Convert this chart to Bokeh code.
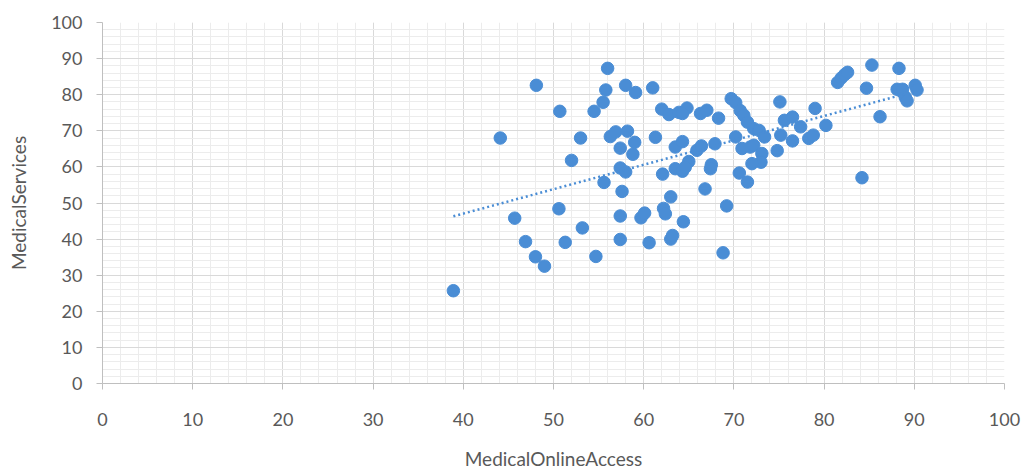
import numpy as np
from bokeh.plotting import figure
from bokeh.models import SingleIntervalTicker, Range1d
from bokeh.embed import file_html
from bokeh.resources import INLINE

online_access = [
    38.9, 44.1, 45.7, 46.9, 48.0, 49.0, 48.1, 50.7, 50.6, 51.3,
    53.0, 52.0, 53.2, 54.7, 54.5, 55.5, 55.8, 56.0, 55.6, 56.3,
    56.9, 58.2, 57.4, 57.4, 58.0, 57.6, 57.4, 57.4, 58.0, 59.1,
    61.0, 59.0, 58.8, 59.7, 60.1, 60.6, 61.3, 62.0, 62.8, 63.9,
    64.8, 64.3, 66.3, 67.0, 68.3, 69.7, 70.2, 70.7, 71.1, 71.5,
    72.2, 72.8, 73.4, 63.5, 64.3, 65.9, 66.4, 67.9, 70.2, 62.1,
    63.5, 64.3, 65.0, 64.6, 67.5, 67.4, 66.8, 70.6, 71.5, 63.0,
    62.2, 62.4, 64.4, 69.2, 63.0, 63.2, 68.8, 70.9, 71.8, 72.2,
    73.1, 73.0, 72.0, 75.1, 75.6, 76.5, 77.4, 79.0, 80.2, 78.3,
    78.8, 76.5, 75.2, 74.8, 81.5, 81.9, 82.3, 82.6, 85.3, 84.7,
    88.3, 88.1, 88.7, 89.0, 89.2, 90.1, 90.3, 86.2, 84.2,
]
medical_services = [
    25.7, 68.0, 45.8, 39.3, 35.1, 32.5, 82.6, 75.4, 48.4, 39.1,
    68.0, 61.8, 43.1, 35.2, 75.4, 77.9, 81.3, 87.3, 55.7, 68.4,
    69.7, 69.9, 65.2, 59.7, 58.6, 53.2, 46.4, 39.9, 82.6, 80.6,
    81.9, 66.8, 63.5, 45.9, 47.2, 39.0, 68.2, 76.0, 74.5, 75.1,
    76.3, 74.8, 74.8, 75.7, 73.5, 78.9, 77.8, 75.6, 74.3, 72.4,
    70.6, 70.1, 68.3, 65.5, 67.0, 64.6, 65.8, 66.4, 68.3, 58.0,
    59.5, 58.8, 61.5, 59.9, 60.6, 59.5, 53.9, 58.3, 55.8, 51.7,
    48.5, 47.0, 44.8, 49.2, 40.0, 41.0, 36.2, 65.1, 65.5, 66.0,
    63.7, 61.3, 60.9, 78.0, 72.9, 73.8, 71.1, 76.2, 71.5, 67.9,
    68.8, 67.2, 68.8, 64.5, 83.4, 84.6, 85.6, 86.2, 88.2, 81.8,
    87.3, 81.5, 81.5, 79.3, 78.3, 82.6, 81.3, 73.9, 57.0,
]
x_ticks = [0, 10, 20, 30, 40, 50, 60, 70, 80, 90, 100]
y_ticks = [0, 10, 20, 30, 40, 50, 60, 70, 80, 90, 100]

x_title = "MedicalOnlineAccess"
y_title = "MedicalServices"

BLUE = "#4A8DD5"
TXT = "#595959"
FONT = "Lato"

p = figure(width=1024, height=473, output_backend="svg", toolbar_location=None,
           x_range=Range1d(x_ticks[0], x_ticks[-1]), y_range=Range1d(y_ticks[0], y_ticks[-1]),
           min_border_left=102, min_border_right=20, min_border_top=22, min_border_bottom=90)
p.outline_line_color = None
p.background_fill_color = "white"
p.border_fill_color = "white"

for ax in (p.xaxis[0], p.yaxis[0]):
    ax.ticker = SingleIntervalTicker(interval=10, num_minor_ticks=5)
    ax.axis_line_color = "#BFBFBF"
    ax.major_tick_line_color = "#BFBFBF"
    ax.major_tick_in = 0
    ax.major_tick_out = 6
    ax.minor_tick_line_color = None
    ax.major_label_text_color = TXT
    ax.major_label_text_font = FONT
    ax.major_label_text_font_size = "18px"
    ax.axis_label_text_color = TXT
    ax.axis_label_text_font = FONT
    ax.axis_label_text_font_size = "19px"
    ax.axis_label_text_font_style = "normal"

p.xaxis[0].axis_label = x_title
p.yaxis[0].axis_label = y_title
p.xaxis[0].major_label_standoff = 23
p.yaxis[0].major_label_standoff = 14
p.xaxis[0].axis_label_standoff = 18
p.yaxis[0].axis_label_standoff = 18

for g in (p.xgrid[0], p.ygrid[0]):
    g.grid_line_color = "#D9D9D9"
    g.grid_line_width = 1
    g.minor_grid_line_color = "#ECECEC"
    g.minor_grid_line_width = 1

p.scatter(online_access, medical_services, size=12.5, color=BLUE, line_color=BLUE)

xa = np.array(online_access)
ya = np.array(medical_services)
slope, intercept = np.polyfit(xa, ya, 1)
tx = [xa.min(), xa.max()]
ty = [slope * t + intercept for t in tx]
p.line(tx, ty, line_color=BLUE, line_width=2.5, line_dash="2 3")

open("out.html", "w").write(file_html(p, INLINE))
